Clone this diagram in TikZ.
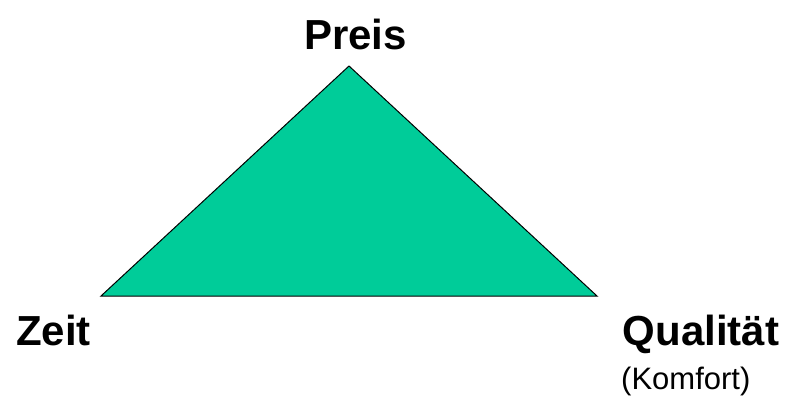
\documentclass[tikz,border=0pt]{standalone}
\usepackage{fontspec}
\setmainfont{Liberation Sans}
\definecolor{tri}{HTML}{00CC99}
\begin{document}
\begin{tikzpicture}[x=1pt,y=-1pt,
  lbl/.style={inner sep=0pt,anchor=base,font=\fontsize{42}{42}\selectfont\bfseries},
  sub/.style={inner sep=0pt,anchor=base west,font=\fontsize{31}{31}\selectfont}]
\useasboundingbox (0,0) rectangle (789,397);
\coordinate (top) at (349,66);
\coordinate (bl) at (101,296);
\coordinate (br) at (597,296);
\draw[fill=tri,draw=black,line width=1pt,line join=miter] (top) -- (bl) -- (br) -- cycle;
\node[lbl] (preis) at (355.5,49) {Preis};
\node[lbl] (zeit) at (53.5,345) {Zeit};
\node[lbl] (qual) at (701,345) {Qualität};
\node[sub] (komf) at (621,389) {(Komfort)};
\end{tikzpicture}
\end{document}
